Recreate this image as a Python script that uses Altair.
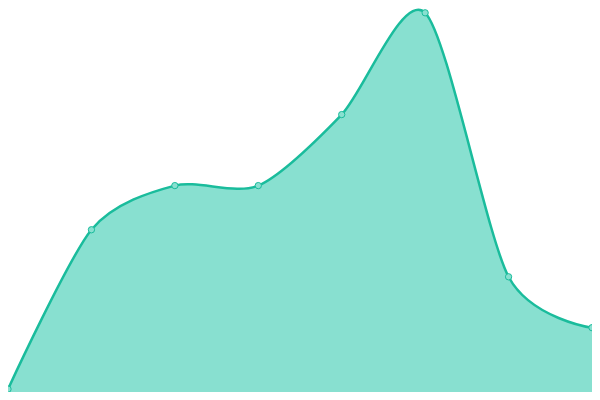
import altair as alt
import pandas as pd

idx = [0, 1, 2, 3, 4, 5, 6, 7]
values = [3, 169, 215, 215, 289, 395, 120, 67]

df = pd.DataFrame({"i": idx, "v": values})

x = alt.X("i:Q", scale=alt.Scale(domain=[0, 7], nice=False, zero=False), axis=None)
y = alt.Y("v:Q", scale=alt.Scale(domain=[0, 400], nice=False), axis=None)

base = alt.Chart(df).encode(x=x, y=y)

area = base.mark_area(interpolate="cardinal", tension=0.2, color="#88e0d0", opacity=1)
line = base.mark_line(interpolate="cardinal", tension=0.2, color="#1abc9c", strokeWidth=2.5)
pts = base.mark_point(filled=True, fill="#88e0d0", stroke="#1abc9c", strokeWidth=1,
                      size=40, opacity=1, shape="circle")

chart = (area + line + pts).properties(
    width=584, height=384,
    autosize=alt.AutoSizeParams(type="none"),
    padding=0,
).configure_view(stroke=None)

chart.save("out.html", embed_options={"renderer": "svg", "actions": False})
